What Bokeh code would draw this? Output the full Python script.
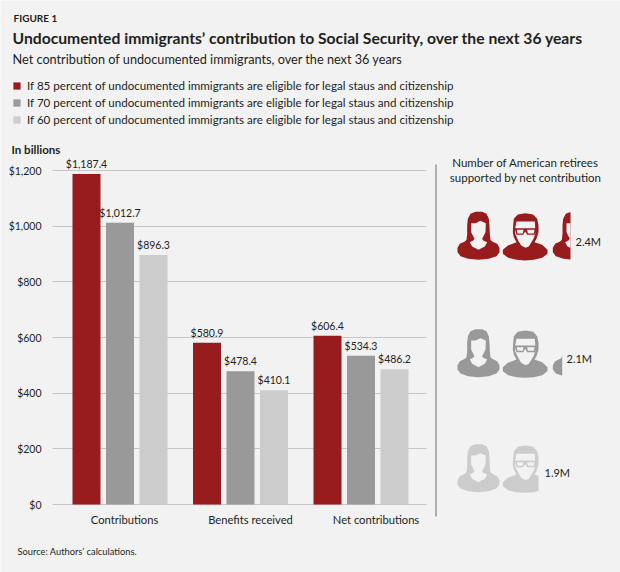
from bokeh.plotting import figure
from bokeh.models import ColumnDataSource, Range1d, Label, FixedTicker, Legend, LegendItem
from bokeh.core.properties import value
from bokeh.embed import file_html
from bokeh.resources import INLINE

# ---- data
categories = ["Contributions", "Benefits received", "Net contributions"]
series_names = [
    "If 85 percent of undocumented immigrants are eligible for legal staus and citizenship",
    "If 70 percent of undocumented immigrants are eligible for legal staus and citizenship",
    "If 60 percent of undocumented immigrants are eligible for legal staus and citizenship",
]
values_85 = [1187.4, 580.9, 606.4]
values_70 = [1012.7, 478.4, 534.3]
values_60 = [896.3, 410.1, 486.2]
retirees = ["2.4M", "2.1M", "1.9M"]
y_ticks = [0, 200, 400, 600, 800, 1000, 1200]
y_tick_labels = ["$0", "$200", "$400", "$600", "$800", "$1,000", "$1,200"]

# ---- style
FONT = "Lato"
BG = "#f2f2f2"
INK = "#231f20"
COLORS = ["#981b1e", "#999999", "#cccccc"]
GRID = "#c6c6c6"

# Frame fills the whole canvas
W, H = 620, 572
PX_PER_GROUP = 120.5
PX_PER_UNIT = 334 / 1200
GROUP0 = 119.5
X0 = (0 - GROUP0) / PX_PER_GROUP
X1 = (W - GROUP0) / PX_PER_GROUP
AXIS_X = (52 - GROUP0) / PX_PER_GROUP

p = figure(width=W, height=H, output_backend="svg", toolbar_location=None,
           x_range=Range1d(X0, X1),
           y_range=Range1d(-(H - 504) / PX_PER_UNIT, 504 / PX_PER_UNIT),
           min_border=0,
           background_fill_color=BG, border_fill_color=BG, outline_line_color=None)
p.extra_x_ranges["px"] = Range1d(0, W)
p.extra_y_ranges["px"] = Range1d(H, 0)

# axes
p.yaxis.fixed_location = AXIS_X
p.yaxis.ticker = FixedTicker(ticks=y_ticks)
p.yaxis.major_label_overrides = dict(zip(y_ticks, y_tick_labels))
p.yaxis.axis_line_color = None
p.yaxis.major_tick_line_color = None
p.yaxis.minor_tick_line_color = None
p.yaxis.major_label_standoff = 5
p.yaxis.major_label_text_font = FONT
p.yaxis.major_label_text_font_size = "10.5px"
p.yaxis.major_label_text_color = INK

label_shift = [4.5 / PX_PER_GROUP, 10 / PX_PER_GROUP, 15 / PX_PER_GROUP]
x_ticks = [i + s for i, s in enumerate(label_shift)]
p.xaxis.fixed_location = 0
p.xaxis.ticker = FixedTicker(ticks=x_ticks)
p.xaxis.major_label_overrides = dict(zip(x_ticks, categories))
p.xaxis.axis_line_color = None
p.xaxis.major_tick_line_color = None
p.xaxis.minor_tick_line_color = None
p.xaxis.major_label_standoff = 2
p.xaxis.major_label_text_font = FONT
p.xaxis.major_label_text_font_size = "11.2px"
p.xaxis.major_label_text_color = INK

p.xgrid.visible = False
p.ygrid.ticker = FixedTicker(ticks=y_ticks)
p.ygrid.grid_line_color = GRID
p.ygrid.grid_line_width = 1.2
p.ygrid.cross_bounds = (AXIS_X, (426 - GROUP0) / PX_PER_GROUP)

# bars
BAR_W = 28 / PX_PER_GROUP
STEP = 33.5 / PX_PER_GROUP
items = []
for k, (vals, col, name) in enumerate(zip([values_85, values_70, values_60], COLORS, series_names)):
    xs = [i + (k - 1) * STEP for i in range(len(categories))]
    src = ColumnDataSource(dict(x=xs, top=vals, lab=[f"${v:,.1f}" for v in vals]))
    r = p.vbar(x="x", top="top", width=BAR_W, bottom=0, source=src, fill_color=col, line_color=None)
    p.text(x="x", y="top", text="lab", source=src, text_align="center", text_baseline="bottom",
           y_offset=-4, text_font=value(FONT), text_font_size="10.5px", text_color=INK)
    items.append(LegendItem(label=name, renderers=[r]))

legend = Legend(items=items, location=(12, 446), orientation="vertical",
                glyph_width=9, glyph_height=9, spacing=4, padding=0, margin=0,
                label_standoff=6, label_height=10,
                background_fill_alpha=0, border_line_color=None,
                label_text_font=FONT, label_text_font_size="11.6px", label_text_color=INK)
p.add_layout(legend, "center")


def txt(x, y, s, size, bold=False, align="left"):
    p.add_layout(Label(x=x, y=y, text=s, x_range_name="px", y_range_name="px",
                       text_font=FONT, text_font_size=size, text_color=INK,
                       text_font_style="bold" if bold else "normal",
                       text_align=align, text_baseline="middle"))


txt(13, 17, "FIGURE 1", "10px", True)
txt(12, 37, "Undocumented immigrants\u2019 contribution to Social Security, over the next 36 years", "15.7px", True)
txt(12, 58, "Net contribution of undocumented immigrants, over the next 36 years", "12.7px")
txt(11, 149, "In billions", "11.5px", True)
txt(17, 551, "Source: Authors\u2019 calculations.", "9.3px")
txt(525, 162, "Number of American retirees", "11.5px", align="center")
txt(525, 177, "supported by net contribution", "11.5px", align="center")

# separator
p.line([435.5, 435.5], [164, 516], x_range_name="px", y_range_name="px", line_color="#999999", line_width=1.5)

# ---- pictogram (shapes drawn in a local 3x grid)
WOMAN = [(110,105),(112,85),(120,70),(135,64),(155,64),(168,70),(175,85),(177,105),(178,130),(180,148),
         (185,153),(200,160),(207,172),(207,185),(198,197),(175,205),(144,208),(113,205),(90,197),(81,185),
         (81,172),(88,160),(103,153),(108,148),(110,130)]
WOMAN_FACE = [(122,98),(135,98),(150,91),(166,98),(165,125),(155,145),(158,150),(170,155),(163,168),(144,178),
              (125,168),(118,155),(128,150),(132,145),(122,125)]
MAN = [(248,105),(250,85),(262,72),(285,68),(308,72),(320,85),(324,105),(324,125),(318,145),(312,155),
       (335,163),(351,178),(351,190),(335,202),(310,208),(284,210),(258,208),(233,202),(217,190),(217,178),
       (232,165),(258,155),(250,140),(247,125)]
MAN_FACE = [(258,93),(313,93),(315,128),(309,145),(295,168),(285,172),(272,165),(263,150),(254,130),(254,113)]
GLASSES = [(247,113),(325,113),(318,118),(314,133),(290,133),(284,123),(278,133),(258,133),(254,118)]
LENS_L = [(259,118),(279,118),(277,129),(261,129)]
LENS_R = [(290,118),(312,118),(310,129),(292,129)]


def clip_right(poly, xmax):
    out = []
    for i, a in enumerate(poly):
        b = poly[(i + 1) % len(poly)]
        if a[0] <= xmax:
            out.append(a)
        if (a[0] <= xmax) != (b[0] <= xmax):
            t = (xmax - a[0]) / (b[0] - a[0])
            out.append((xmax, a[1] + t * (b[1] - a[1])))
    return out


row_base = [259.3, 376.7, 491.7]
row_clip = [570, 561.7, 538]
row_label = [(575, 240.7), (566, 358), (544, 472)]
THIRD = 286
for col, base, xmax, lab, (lx, ly) in zip(COLORS, row_base, row_clip, retirees, row_label):
    xss, yss, fills = [], [], []
    layers = [(WOMAN, 0, col), (WOMAN_FACE, 0, BG), (MAN, 0, col), (MAN_FACE, 0, BG), (GLASSES, 0, col),
              (LENS_L, 0, BG), (LENS_R, 0, BG), (WOMAN, THIRD, col), (WOMAN_FACE, THIRD, BG)]
    for poly, dx, fill in layers:
        pts = [(457 + (x + dx - 81) / 3, base + (y - 208) / 3) for x, y in poly]
        pts = clip_right(pts, xmax)
        if pts:
            xss.append([q[0] for q in pts])
            yss.append([q[1] for q in pts])
            fills.append(fill)
    p.patches("xs", "ys", source=ColumnDataSource(dict(xs=xss, ys=yss, fill=fills)),
              x_range_name="px", y_range_name="px", fill_color="fill", line_color=None)
    txt(lx, ly, lab, "11px")

open("out.html", "w").write(file_html(p, INLINE))
